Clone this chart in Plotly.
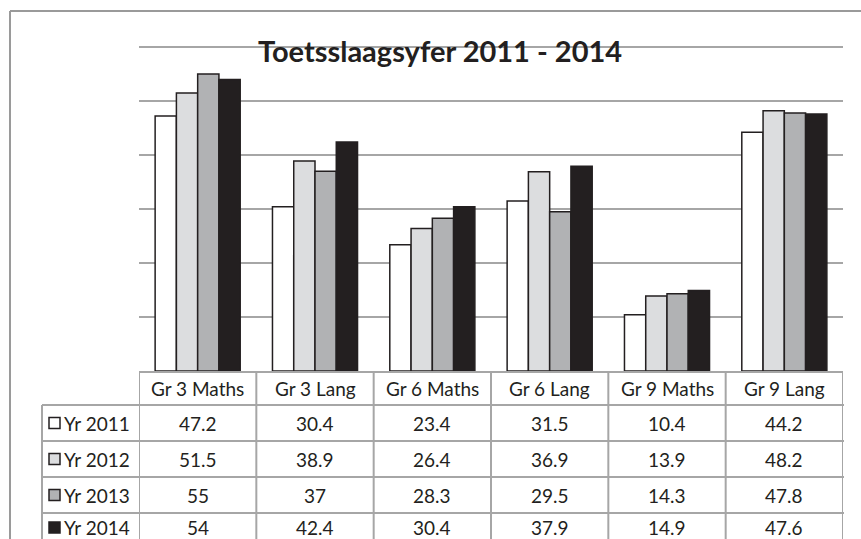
import plotly.graph_objects as go

# ---- data ----
categories = ["Gr 3 Maths", "Gr 3 Lang", "Gr 6 Maths", "Gr 6 Lang", "Gr 9 Maths", "Gr 9 Lang"]
series_names = ["Yr 2011", "Yr 2012", "Yr 2013", "Yr 2014"]
yr2011 = [47.2, 30.4, 23.4, 31.5, 10.4, 44.2]
yr2012 = [51.5, 38.9, 26.4, 36.9, 13.9, 48.2]
yr2013 = [55, 37, 28.3, 29.5, 14.3, 47.8]
yr2014 = [54, 42.4, 30.4, 37.9, 14.9, 47.6]
series_values = [yr2011, yr2012, yr2013, yr2014]
title_text = "Toetsslaagsyfer 2011 - 2014"

# ---- styling ----
W, H = 861, 539
colors = ["#ffffff", "#dcdddf", "#b1b2b4", "#231f20"]
edge = "#231f20"
grid_col = "#a6a6a6"
table_col = "#a6a6a6"
text_col = "#231f20"
FONT = "Lato"
FS = 19

def px(x):
    return x / W

def py(y):
    return (H - y) / H

plot_l, plot_r = 139, 843
plot_bot = 371
y_max = 62
unit_px = (371 - 47) / 60.0
plot_top = plot_bot - y_max * unit_px

fig = go.Figure()
for name, vals, c in zip(series_names, series_values, colors):
    fig.add_trace(go.Bar(
        x=categories, y=vals, name=name,
        marker=dict(color=c, line=dict(color=edge, width=1.5)),
        showlegend=False, hoverinfo="x+y+name",
    ))

shapes = []
annotations = []

# outer frame (left and top edges)
shapes.append(dict(type="line", xref="paper", yref="paper", x0=px(10), x1=px(10), y0=py(11), y1=py(545),
                   line=dict(color="#9a9a9a", width=2)))
shapes.append(dict(type="line", xref="paper", yref="paper", x0=px(10), x1=px(870), y0=py(11), y1=py(11),
                   line=dict(color="#9a9a9a", width=2)))

# table geometry
row_y = [372, 405, 441, 477, 513, 549]
n = len(categories)
shapes.append(dict(type="line", xref="x", yref="paper", x0=-0.5, x1=n - 0.5, y0=py(row_y[0]), y1=py(row_y[0]),
                   line=dict(color=table_col, width=2)))
for yy in row_y[1:5]:
    shapes.append(dict(type="line", xref="paper", yref="paper", x0=px(42), x1=px(plot_r + 1), y0=py(yy), y1=py(yy),
                       line=dict(color=table_col, width=2)))
shapes.append(dict(type="line", xref="paper", yref="paper", x0=px(42), x1=px(42), y0=py(row_y[1]), y1=py(545),
                   line=dict(color=table_col, width=2)))
for i in range(n + 1):
    shapes.append(dict(type="line", xref="x", yref="paper", x0=i - 0.5, x1=i - 0.5, y0=py(row_y[0]), y1=py(545),
                       line=dict(color=table_col, width=2)))

# header text
for cat in categories:
    annotations.append(dict(x=cat, xref="x", y=py((row_y[0] + row_y[1]) / 2), yref="paper", text=cat,
                            xanchor="center", yanchor="middle",
                            showarrow=False, font=dict(family=FONT, size=FS, color=text_col)))
# value rows
for r, (name, vals, c) in enumerate(zip(series_names, series_values, colors)):
    yc = (row_y[r + 1] + row_y[r + 2]) / 2 - (3.5 if r == 3 else 0)
    for cat, v in zip(categories, vals):
        annotations.append(dict(x=cat, xref="x", y=py(yc), yref="paper", text=f"{v:g}",
                                xanchor="center", yanchor="middle",
                                showarrow=False, font=dict(family=FONT, size=FS, color=text_col)))
    annotations.append(dict(x=px(132), xref="paper", xanchor="right", y=py(yc), yref="paper", yanchor="middle",
                            text=name, showarrow=False, font=dict(family=FONT, size=FS, color=text_col)))
    shapes.append(dict(type="rect", xref="paper", yref="paper", x0=px(49), x1=px(60),
                       y0=py(yc - 5.5), y1=py(yc + 5.5),
                       fillcolor=c, line=dict(color=edge, width=1.5)))

# title
annotations.append(dict(x=px(440), xref="paper", y=py(51), yref="paper", text="<b>" + title_text + "</b>",
                        xanchor="center", yanchor="middle",
                        showarrow=False, font=dict(family=FONT, size=29, color=text_col)))

fig.update_layout(
    width=W, height=H,
    margin=dict(l=0, r=0, t=0, b=0),
    paper_bgcolor="white", plot_bgcolor="white",
    barmode="group", bargap=0.275, bargroupgap=0,
    xaxis=dict(domain=[px(plot_l), px(plot_r)], showticklabels=False, showgrid=False, zeroline=False,
               showline=False, ticks="", range=[-0.5, n - 0.5], fixedrange=True),
    yaxis=dict(domain=[py(plot_bot), py(plot_top)], range=[0, y_max], tickvals=[10, 20, 30, 40, 50, 60],
               showticklabels=False, showgrid=True, gridcolor=grid_col, gridwidth=2, zeroline=False,
               showline=False, ticks=""),
    shapes=shapes, annotations=annotations,
)

fig.write_html("out.html", config={"displayModeBar": False},
               post_script="document.body.style.margin='0';")
